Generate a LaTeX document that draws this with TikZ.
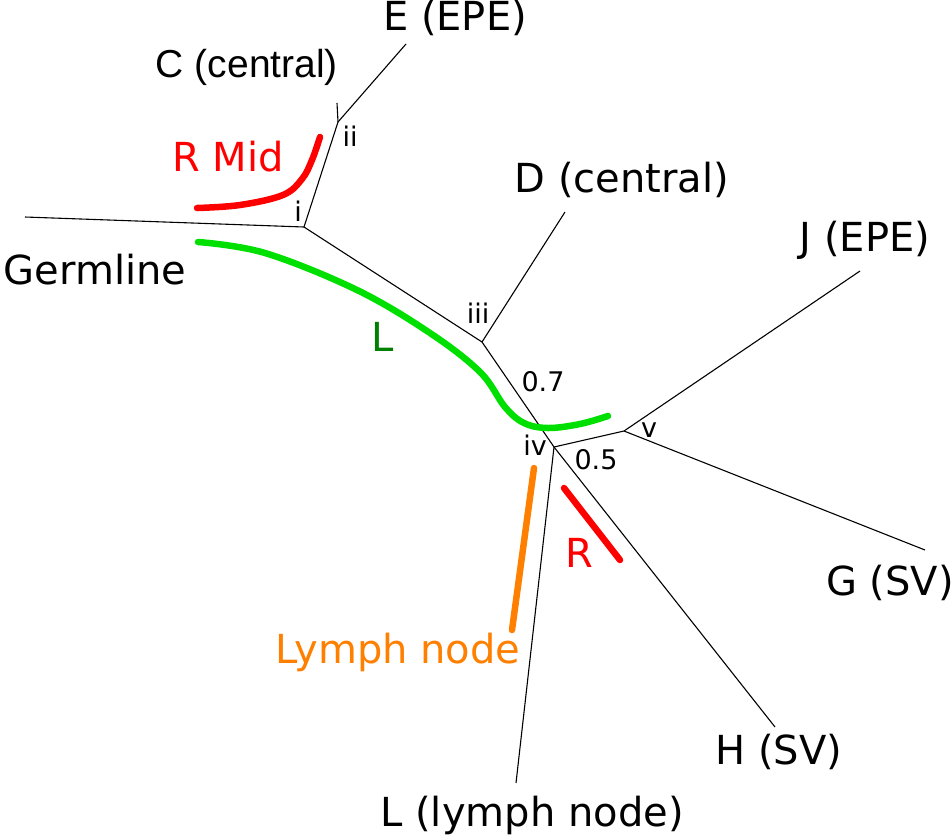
\documentclass[tikz,border=0pt]{standalone}
\usepackage{fontspec}
\setmainfont{DejaVu Sans}
\newfontfamily\arialfont{Liberation Sans}
\definecolor{rred}{RGB}{255,0,0}
\definecolor{lgreen}{RGB}{0,224,0}
\definecolor{dgreen}{RGB}{0,128,0}
\definecolor{lorange}{RGB}{255,128,0}
\begin{document}
\begin{tikzpicture}[x=1pt,y=-1pt,
  edge/.style={draw=black,line width=1.1pt},
  big/.style={inner sep=0pt,font=\fontsize{40}{44}\selectfont},
  small/.style={inner sep=0pt,font=\fontsize{27}{30}\selectfont},
  hl/.style={line width=6.5pt,line cap=round}]
\useasboundingbox (0,0) rectangle (952,839);
% tree vertices
\coordinate (g0) at (25,217);
\coordinate (vi) at (304,227);
\coordinate (vii) at (338,122);
\coordinate (cend) at (337,103);
\coordinate (eend) at (406,44);
\coordinate (viii) at (482,342);
\coordinate (dend) at (565,212);
\coordinate (viv) at (554,447);
\coordinate (vv) at (624,431);
\coordinate (jend) at (860,271);
\coordinate (gend) at (925,550);
\coordinate (hend) at (775,727);
\coordinate (lend) at (516,783);
% edges
\draw[edge] (g0) -- (vi);
\draw[edge] (vi) -- (vii);
\draw[edge] (vii) -- (cend);
\draw[edge] (vii) -- (eend);
\draw[edge] (vi) -- (viii);
\draw[edge] (viii) -- (dend);
\draw[edge] (viii) -- (viv);
\draw[edge] (viv) -- (vv);
\draw[edge] (vv) -- (jend);
\draw[edge] (vv) -- (gend);
\draw[edge] (viv) -- (hend);
\draw[edge] (viv) -- (lend);
% highlight curves
\draw[hl,lgreen] plot[smooth,tension=0.6] coordinates {(198,242) (265,253) (357,290) (430,333) (480,372) (505,407) (524,423) (548,428) (580,424) (608,416)};
\draw[hl,rred] plot[smooth,tension=0.6] coordinates {(197,208) (240,205) (283,195) (302,179) (312,160) (320,137)};
\draw[hl,lorange] (534,468) -- (512,630);
\draw[hl,rred] (564,488) -- (620,560);
% labels
\node[big] (le) at (455,18) {E (EPE)};
\node[inner sep=0pt,font=\arialfont\fontsize{39}{43}\selectfont] (lc) at (247,67) {C (central)};
\node[big] (ld) at (622,180) {D (central)};
\node[big] (lj) at (865,240) {J (EPE)};
\node[big] (lgerm) at (95,270) {Germline};
\node[big] (lg) at (890,583) {G (SV)};
\node[big] (lh) at (779,752) {H (SV)};
\node[big] (ll) at (532,815) {L (lymph node)};
\node[big,text=lorange] (lln) at (398,652) {Lymph node};
\node[big,text=rred] (lrmid) at (228,157) {R Mid};
\node[big,text=rred] (lr) at (579,553) {R};
\node[big,text=dgreen] (lL) at (383,337) {L};
\node[small] (ni) at (298,211) {i};
\node[small] (nii) at (350,136) {ii};
\node[small] (niii) at (478,313) {iii};
\node[small] (niv) at (535,445) {iv};
\node[small] (nv) at (649,430) {v};
\node[small] (n07) at (543,382) {0.7};
\node[small] (n05) at (596,460) {0.5};
\end{tikzpicture}
\end{document}
